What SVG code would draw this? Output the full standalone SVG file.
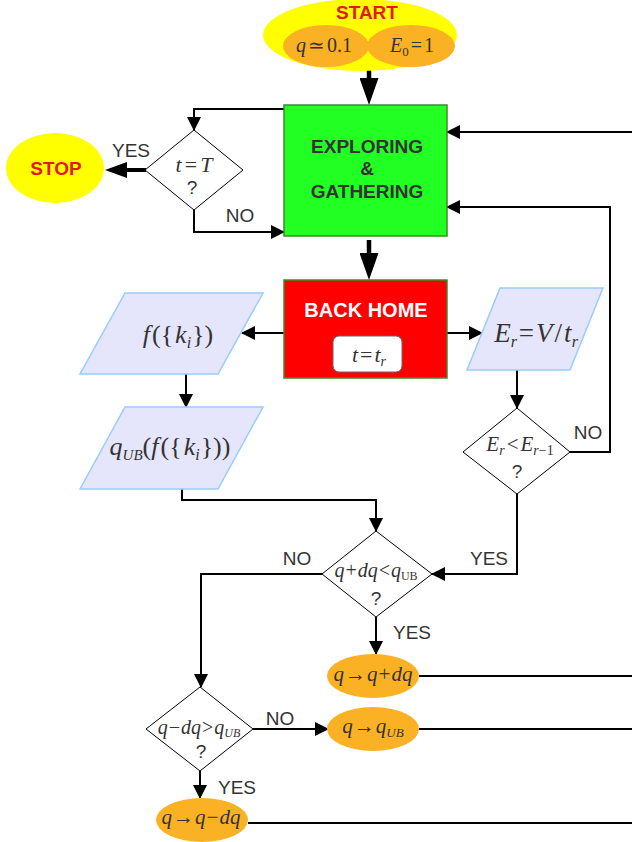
<svg xmlns="http://www.w3.org/2000/svg" width="632" height="842" viewBox="0 0 632 842">
<defs>
<marker id="ah" markerUnits="userSpaceOnUse" markerWidth="14" markerHeight="14" refX="13" refY="7" orient="auto"><path d="M0,0 L14,7 L0,14 z" fill="#000"/></marker>
<marker id="ahBig" markerUnits="userSpaceOnUse" markerWidth="27" markerHeight="19" refX="12" refY="9.5" orient="auto"><path d="M0,0 L27,9.5 L0,19 z" fill="#000"/></marker>
<marker id="ahStop" markerUnits="userSpaceOnUse" markerWidth="22" markerHeight="16" refX="10" refY="8" orient="auto"><path d="M0,0 L22,8 L0,16 z" fill="#000"/></marker>
<style>
.conn{fill:none;stroke:#000;stroke-width:2}
.big{fill:none;stroke:#000;stroke-width:4.5}
.lbl{font-family:"Liberation Sans",Arial,sans-serif;font-size:19px;fill:#333;text-anchor:middle}
.title{font-family:"Liberation Sans",Arial,sans-serif;font-weight:bold;text-anchor:middle}
.math{font-family:"Liberation Serif","DejaVu Serif",serif;fill:#333;text-anchor:middle}
.i{font-style:italic}
.para{fill:#e5e5fb;stroke:#99ccff;stroke-width:1.5}
.dia{fill:#fff;stroke:#000;stroke-width:1}
.orange{fill:#fbb124}
.yellow{fill:#ffff00}
</style>
</defs>

<g id="connectors">
<line class="big" x1="369" y1="66" x2="369" y2="90" marker-end="url(#ahBig)"/>
<line class="big" x1="369" y1="240" x2="369" y2="265" marker-end="url(#ahBig)"/>
<path class="conn" d="M284,109 H194 V130" marker-end="url(#ah)"/>
<line x1="146" y1="170" x2="117" y2="170" stroke="#000" stroke-width="4" marker-end="url(#ahStop)"/>
<path class="conn" d="M194,210 V232 H284" marker-end="url(#ah)"/>
<path class="conn" d="M632,132 H447" marker-end="url(#ah)"/>
<path class="conn" d="M570,452 H610 V207 H447" marker-end="url(#ah)"/>
<path class="conn" d="M284,333 H242" marker-end="url(#ah)"/>
<path class="conn" d="M447,333 H482" marker-end="url(#ah)"/>
<path class="conn" d="M186,374 V407" marker-end="url(#ah)"/>
<path class="conn" d="M517,370 V408" marker-end="url(#ah)"/>
<path class="conn" d="M182,489 V500 H376 V531" marker-end="url(#ah)"/>
<path class="conn" d="M517,494 V574 H432" marker-end="url(#ah)"/>
<path class="conn" d="M322,574 H201 V687" marker-end="url(#ah)"/>
<path class="conn" d="M376,617 V654" marker-end="url(#ah)"/>
<path class="conn" d="M419,676 H632"/>
<path class="conn" d="M253,729 H328" marker-end="url(#ah)"/>
<path class="conn" d="M419,729 H632"/>
<path class="conn" d="M200,771 V798" marker-end="url(#ah)"/>
<path class="conn" d="M248,823 H632"/>
<text class="lbl" x="131" y="157">YES</text>
<text class="lbl" x="240" y="222">NO</text>
<text class="lbl" x="588" y="439">NO</text>
<text class="lbl" x="489" y="565">YES</text>
<text class="lbl" x="297" y="565">NO</text>
<text class="lbl" x="412" y="639">YES</text>
<text class="lbl" x="280" y="725">NO</text>
<text class="lbl" x="237" y="794">YES</text>
</g>

<g id="start">
<ellipse class="yellow" cx="360" cy="35" rx="97" ry="36"/>
<ellipse class="orange" cx="326" cy="46" rx="43" ry="21"/>
<ellipse class="orange" cx="411" cy="46" rx="44" ry="21"/>
<text class="title" x="367" y="19" font-size="19" fill="#e21a1a">START</text>
<text class="math" x="324" y="52" font-size="20"><tspan class="i">q</tspan><tspan dx="2">≃</tspan><tspan dx="2">0.1</tspan></text>
<text class="math" x="412" y="52" font-size="20"><tspan class="i">E</tspan><tspan font-size="13" dy="4">0</tspan><tspan dy="-4" dx="2">=</tspan><tspan dx="2">1</tspan></text>
</g>

<g id="explore">
<rect x="284" y="105" width="163" height="131" fill="#22ff22" stroke="#3c8a2e" stroke-width="1.5"/>
<text class="title" x="367" y="153" font-size="19" fill="#333">EXPLORING</text>
<text class="title" x="367" y="175" font-size="19" fill="#333">&amp;</text>
<text class="title" x="367" y="198" font-size="19" fill="#333">GATHERING</text>
</g>

<g id="decision-t">
<polygon class="dia" points="194,130 243,170 194,210 145,170"/>
<text class="math" x="194" y="172" font-size="22"><tspan class="i">t</tspan><tspan dx="3">=</tspan><tspan class="i" dx="3">T</tspan></text>
<text class="lbl" x="192" y="194">?</text>
</g>

<g id="stop">
<ellipse class="yellow" cx="55" cy="168" rx="49" ry="35"/>
<text class="title" x="56" y="175" font-size="19" fill="#e21a1a">STOP</text>
</g>

<g id="backhome">
<rect x="284" y="280" width="163" height="98" fill="#ff0000" stroke="#3c8a2e" stroke-width="1.5"/>
<text class="title" x="366" y="317" font-size="20" fill="#fff">BACK HOME</text>
<rect x="333" y="336" width="69" height="36" rx="6" fill="#fff" stroke="#666" stroke-width="1"/>
<text class="math" x="369" y="362" font-size="22"><tspan class="i">t</tspan><tspan dx="2">=</tspan><tspan class="i" dx="2">t</tspan><tspan class="i" font-size="14" dy="4">r</tspan></text>
</g>

<g id="f-ki">
<polygon class="para" points="125,293 263,293 218,374 80,374"/>
<text class="math" x="178" y="343" font-size="26"><tspan class="i">f</tspan><tspan dx="2">(</tspan><tspan>{</tspan><tspan class="i" dx="2">k</tspan><tspan class="i" font-size="16" dy="5">i</tspan><tspan dy="-5" dx="1">}</tspan><tspan>)</tspan></text>
</g>

<g id="qub">
<polygon class="para" points="125,407 263,407 218,489 80,489"/>
<text class="math" x="170" y="455" font-size="26"><tspan class="i">q</tspan><tspan class="i" font-size="15" dy="5">UB</tspan><tspan dy="-5">(</tspan><tspan class="i">f</tspan><tspan dx="2">(</tspan><tspan>{</tspan><tspan class="i" dx="2">k</tspan><tspan class="i" font-size="16" dy="5">i</tspan><tspan dy="-5" dx="1">}</tspan><tspan>))</tspan></text>
</g>

<g id="er">
<polygon class="para" points="500,288 603,288 570,370 467,370"/>
<text class="math" x="536" y="342" font-size="27"><tspan class="i">E</tspan><tspan class="i" font-size="16" dy="5">r</tspan><tspan dy="-5" dx="2">=</tspan><tspan class="i" dx="2">V</tspan><tspan dx="2">/</tspan><tspan class="i" dx="2">t</tspan><tspan class="i" font-size="16" dy="5">r</tspan></text>
</g>

<g id="decision-er">
<polygon class="dia" points="517,408 570,452 517,494 463,452"/>
<text class="math" x="520" y="451" font-size="21"><tspan class="i">E</tspan><tspan class="i" font-size="14" dy="4">r</tspan><tspan dy="-4" dx="2">&lt;</tspan><tspan class="i" dx="2">E</tspan><tspan class="i" font-size="14" dy="4">r</tspan><tspan font-size="14">−1</tspan></text>
<text class="lbl" x="517" y="478">?</text>
</g>

<g id="decision-plus">
<polygon class="dia" points="376,531 432,574 376,617 322,574"/>
<text class="math" x="376" y="577" font-size="20"><tspan class="i">q</tspan><tspan dx="1">+</tspan><tspan class="i" dx="1">dq</tspan><tspan dx="1">&lt;</tspan><tspan class="i" dx="1">q</tspan><tspan font-size="12" dy="3">UB</tspan></text>
<text class="lbl" x="376" y="605">?</text>
</g>

<g id="decision-minus">
<polygon class="dia" points="200,687 253,729 200,771 146,729"/>
<text class="math" x="199" y="734" font-size="20"><tspan class="i">q</tspan><tspan dx="1">−</tspan><tspan class="i" dx="1">dq</tspan><tspan dx="1">&gt;</tspan><tspan class="i" dx="1">q</tspan><tspan class="i" font-size="12" dy="3">UB</tspan></text>
<text class="lbl" x="201" y="758">?</text>
</g>

<g id="q-plus">
<ellipse class="orange" cx="373" cy="676" rx="46" ry="22"/>
<text class="math" x="373" y="681" font-size="21"><tspan class="i">q</tspan><tspan dx="1">→</tspan><tspan class="i" dx="1">q</tspan><tspan dx="1">+</tspan><tspan class="i" dx="1">dq</tspan></text>
</g>

<g id="q-ub">
<ellipse class="orange" cx="373" cy="729" rx="46" ry="22"/>
<text class="math" x="373" y="733" font-size="21"><tspan class="i">q</tspan><tspan dx="1">→</tspan><tspan class="i" dx="1">q</tspan><tspan class="i" font-size="13" dy="4">UB</tspan></text>
</g>

<g id="q-minus">
<ellipse class="orange" cx="202" cy="820" rx="46" ry="22"/>
<text class="math" x="201" y="824" font-size="21"><tspan class="i">q</tspan><tspan dx="1">→</tspan><tspan class="i" dx="1">q</tspan><tspan dx="1">−</tspan><tspan class="i" dx="1">dq</tspan></text>
</g>
</svg>
